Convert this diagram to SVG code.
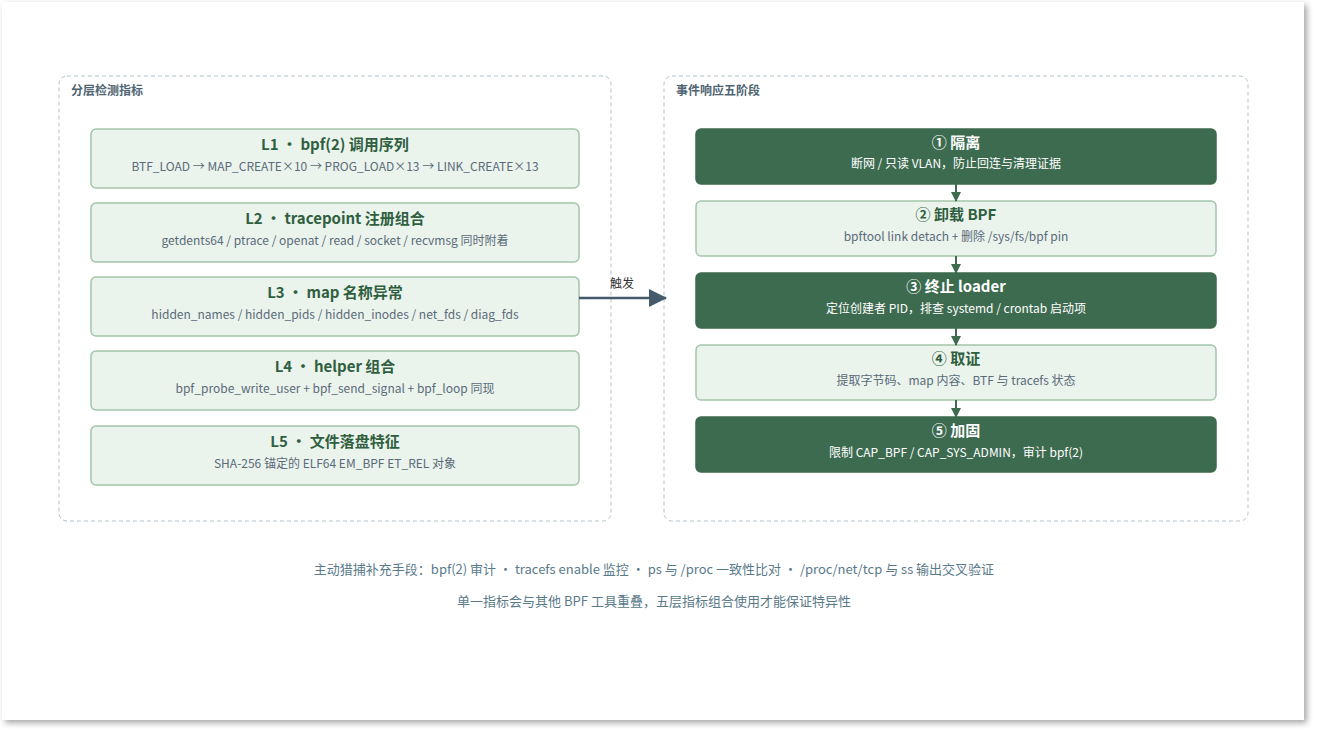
<svg xmlns="http://www.w3.org/2000/svg" width="1319" height="739" viewBox="0 0 1319 739">
<defs>
<filter id="sh" x="-5%" y="-5%" width="110%" height="110%"><feDropShadow dx="3" dy="3" stdDeviation="3" flood-color="#000" flood-opacity="0.35"/></filter>
<marker id="ga" markerWidth="10" markerHeight="10" refX="9" refY="5" orient="auto" markerUnits="userSpaceOnUse"><path d="M0,0 L10,5 L0,10 Z" fill="#3d6b4f"/></marker>
<marker id="ba" markerWidth="18" markerHeight="18" refX="17" refY="9" orient="auto" markerUnits="userSpaceOnUse"><path d="M0,0 L18,9 L0,18 Z" fill="#455a6b"/></marker>
</defs>
<style>
text{font-family:"Noto Sans CJK SC","Noto Sans",sans-serif;text-anchor:middle}
.panel{fill:none;stroke:#b5c2c8;stroke-dasharray:4 3;stroke-width:1}
.ptitle{font-size:12px;font-weight:bold;fill:#4f6573;text-anchor:start}
.card{fill:#ebf3ed;stroke:#a3c5ab;stroke-width:1.5}
.dark{fill:#3d6b4f;stroke:#3d6b4f}
.t{font-size:15px;font-weight:bold;fill:#2f5f3f}
.s{font-size:12px;fill:#5a6b78}
.tw{font-size:15px;font-weight:bold;fill:#fff}
.sw{font-size:12px;fill:#fff}
.foot{font-size:13px;fill:#5a7a8a}
</style>
<rect x="0" y="0" width="1319" height="739" fill="#fff"/>
<rect x="2" y="2" width="1302" height="718" fill="#fff" filter="url(#sh)"/>
<rect class="panel" x="59" y="76" width="552" height="445" rx="8"/>
<text class="ptitle" x="71" y="95">分层检测指标</text>
<rect class="panel" x="664" y="76" width="584" height="445" rx="8"/>
<text class="ptitle" x="676" y="95">事件响应五阶段</text>
<g id="L1"><rect class="card" x="91" y="129" width="488" height="59" rx="5"/><text class="t" x="335" y="150">L1 · bpf(2) 调用序列</text><text class="s" x="335" y="171">BTF_LOAD → MAP_CREATE×10 → PROG_LOAD×13 → LINK_CREATE×13</text></g>
<g id="L2"><rect class="card" x="91" y="203" width="488" height="59" rx="5"/><text class="t" x="335" y="224">L2 · tracepoint 注册组合</text><text class="s" x="335" y="245">getdents64 / ptrace / openat / read / socket / recvmsg 同时附着</text></g>
<g id="L3"><rect class="card" x="91" y="277" width="488" height="59" rx="5"/><text class="t" x="335" y="298">L3 · map 名称异常</text><text class="s" x="335" y="319">hidden_names / hidden_pids / hidden_inodes / net_fds / diag_fds</text></g>
<g id="L4"><rect class="card" x="91" y="351" width="488" height="59" rx="5"/><text class="t" x="335" y="372">L4 · helper 组合</text><text class="s" x="335" y="393">bpf_probe_write_user + bpf_send_signal + bpf_loop 同现</text></g>
<g id="L5"><rect class="card" x="91" y="426" width="488" height="59" rx="5"/><text class="t" x="335" y="447">L5 · 文件落盘特征</text><text class="s" x="335" y="468">SHA-256 锚定的 ELF64 EM_BPF ET_REL 对象</text></g>
<g id="S1"><rect class="card dark" x="696" y="129" width="520" height="55" rx="5"/><text class="tw" x="956" y="148">① 隔离</text><text class="sw" x="956" y="168">断网 / 只读 VLAN，防止回连与清理证据</text></g>
<g id="S2"><rect class="card" x="696" y="201" width="520" height="55" rx="5"/><text class="t" x="956" y="220">② 卸载 BPF</text><text class="s" x="956" y="241">bpftool link detach + 删除 /sys/fs/bpf pin</text></g>
<g id="S3"><rect class="card dark" x="696" y="273" width="520" height="55" rx="5"/><text class="tw" x="956" y="292">③ 终止 loader</text><text class="sw" x="956" y="313">定位创建者 PID，排查 systemd / crontab 启动项</text></g>
<g id="S4"><rect class="card" x="696" y="345" width="520" height="55" rx="5"/><text class="t" x="956" y="364">④ 取证</text><text class="s" x="956" y="385">提取字节码、map 内容、BTF 与 tracefs 状态</text></g>
<g id="S5"><rect class="card dark" x="696" y="417" width="520" height="55" rx="5"/><text class="tw" x="956" y="436">⑤ 加固</text><text class="sw" x="956" y="457">限制 CAP_BPF / CAP_SYS_ADMIN，审计 bpf(2)</text></g>
<g id="connectors" stroke-width="2">
<line x1="956" y1="184" x2="956" y2="201" stroke="#3d6b4f" marker-end="url(#ga)"/>
<line x1="956" y1="256" x2="956" y2="273" stroke="#3d6b4f" marker-end="url(#ga)"/>
<line x1="956" y1="328" x2="956" y2="345" stroke="#3d6b4f" marker-end="url(#ga)"/>
<line x1="956" y1="400" x2="956" y2="417" stroke="#3d6b4f" marker-end="url(#ga)"/>
<line x1="579" y1="298" x2="666" y2="298" stroke="#455a6b" stroke-width="2.5" marker-end="url(#ba)"/>
<text x="622" y="288" style="font-size:12px;fill:#333">触发</text>
</g>
<text class="foot" x="654" y="574">主动猎捕补充手段：bpf(2) 审计 · tracefs enable 监控 · ps 与 /proc 一致性比对 · /proc/net/tcp 与 ss 输出交叉验证</text>
<text class="foot" x="654" y="606">单一指标会与其他 BPF 工具重叠，五层指标组合使用才能保证特异性</text>
</svg>
